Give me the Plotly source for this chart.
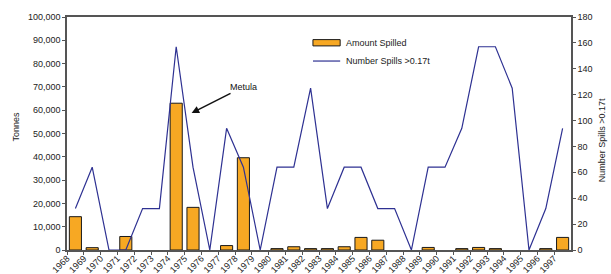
import plotly.graph_objects as go

years = [str(y) for y in range(1968, 1998)]
amount_spilled = [14300, 1000, 0, 5800, 0, 0, 63000, 18300, 0, 1900,
                  39600, 0, 600, 1400, 600, 600, 1400, 5400, 4200, 0,
                  0, 1100, 0, 600, 1100, 600, 0, 0, 600, 5400]
number_spills = [32, 64, 0, 0, 32, 32, 157, 64, 0, 94,
                 64, 0, 64, 64, 125, 32, 64, 64, 32, 32,
                 0, 64, 64, 94, 157, 157, 125, 0, 32, 94]
left_ticks = list(range(0, 100001, 10000))
right_ticks = list(range(0, 181, 20))

FONT = "Arial, Liberation Sans, sans-serif"
BAR_COLOR = "#F7A823"
LINE_COLOR = "#2E3192"
slots = [i + 0.5 for i in range(len(years))]
bar_outline = [1 if v > 0 else 0 for v in amount_spilled]

fig = go.Figure()
fig.add_trace(go.Bar(
    x=slots, y=amount_spilled, name="Amount Spilled", width=0.72,
    marker=dict(color=BAR_COLOR, line=dict(color="#1a1a1a", width=bar_outline)),
    yaxis="y"))
fig.add_trace(go.Scatter(
    x=slots, y=number_spills, name="Number Spills >0.17t", mode="lines",
    line=dict(color=LINE_COLOR, width=1.2), yaxis="y2"))

fig.update_layout(
    width=611, height=274,
    margin=dict(l=67, r=40, t=17, b=24),
    paper_bgcolor="white", plot_bgcolor="white",
    font=dict(family=FONT, size=9, color="#222"),
    showlegend=False,
    xaxis=dict(range=[0, 30], tickmode="array",
               tickvals=list(range(len(years))), ticktext=years,
               tickangle=-45, ticks="outside", ticklen=3, tickcolor="#555",
               ticklabelstandoff=-5,
               showline=True, linecolor="#555", linewidth=1.5, mirror=True,
               showgrid=False, zeroline=False, automargin=False),
    yaxis=dict(range=[0, 100000], tickvals=left_ticks, tickformat=",d",
               ticks="outside", ticklen=3, tickcolor="#555",
               showline=True, linecolor="#555", linewidth=1.5,
               showgrid=False, zeroline=False, automargin=False),
    yaxis2=dict(range=[0, 180], tickvals=right_ticks, overlaying="y",
                side="right", ticks="outside", ticklen=3, tickcolor="#555",
                showline=True, linecolor="#555", linewidth=1.5,
                showgrid=False, zeroline=False, automargin=False),
)

# custom legend
fig.add_shape(type="rect", xref="paper", yref="paper", x0=0.488, x1=0.542,
              y0=0.876, y1=0.903, fillcolor=BAR_COLOR,
              line=dict(color="#1a1a1a", width=1))
fig.add_shape(type="line", xref="paper", yref="paper", x0=0.488, x1=0.542,
              y0=0.811, y1=0.811, line=dict(color=LINE_COLOR, width=1.2))
fig.add_annotation(x=0.550, y=0.889, xref="paper", yref="paper",
                   text="Amount Spilled", showarrow=False, xanchor="left",
                   yanchor="middle", font=dict(size=9))
fig.add_annotation(x=0.550, y=0.811, xref="paper", yref="paper",
                   text="Number Spills >0.17t", showarrow=False, xanchor="left",
                   yanchor="middle", font=dict(size=9))

fig.add_annotation(x=7.42, y=58800, xref="x", yref="y", ax=10.5, ay=70000,
                   axref="x", ayref="y", text="Metula", showarrow=True,
                   arrowhead=2, arrowsize=1, arrowwidth=1.5, arrowcolor="#111",
                   font=dict(size=9, color="#111"))
fig.add_annotation(x=-0.103, y=0.53, xref="paper", yref="paper", text="Tonnes",
                   textangle=-90, showarrow=False, xanchor="center",
                   yanchor="middle", font=dict(size=9))
fig.add_annotation(x=1.063, y=0.47, xref="paper", yref="paper",
                   text="Number Spills >0.17t", textangle=-90, showarrow=False,
                   xanchor="center", yanchor="middle", font=dict(size=9))

fig.write_html("out.html",
               config={"displayModeBar": False},
               post_script="document.body.style.margin='0';"
                           "document.body.style.overflow='hidden';")
